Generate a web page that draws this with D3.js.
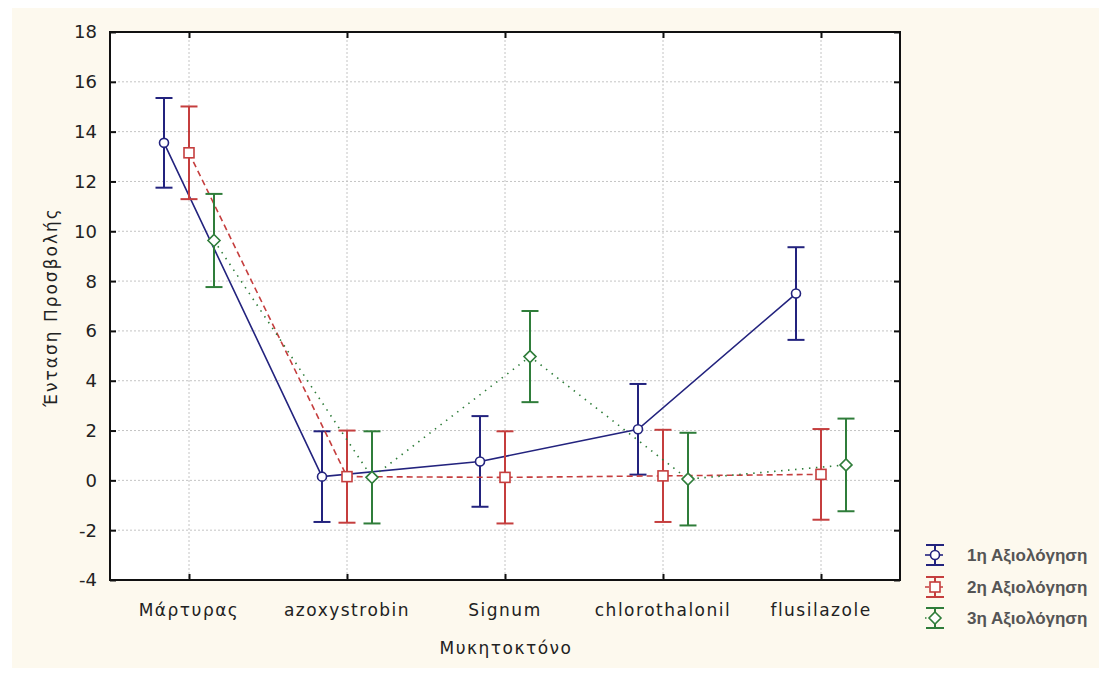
<!DOCTYPE html>
<html>
<head>
<meta charset="utf-8">
<script src="https://cdn.jsdelivr.net/npm/d3@7"></script>
<style>
  html, body { margin: 0; padding: 0; background: #ffffff; }
  svg { display: block; }
</style>
</head>
<body>
<svg id="chart" width="1099" height="673"></svg>
<script>
// ---- data ----
const categories = ["Μάρτυρας", "azoxystrobin", "Signum", "chlorothalonil", "flusilazole"];
const seriesNames = ["1η Αξιολόγηση", "2η Αξιολόγηση", "3η Αξιολόγηση"];
const eval1 = [13.55, 0.15, 0.76, 2.05, 7.5];
const eval2 = [13.15, 0.15, 0.12, 0.18, 0.24];
const eval3 = [9.63, 0.12, 4.97, 0.05, 0.62];
const err1 = [1.8, 1.82, 1.82, 1.82, 1.86];
const err2 = [1.86, 1.85, 1.85, 1.85, 1.82];
const err3 = [1.87, 1.85, 1.83, 1.86, 1.86];
const yTicks = [-4, -2, 0, 2, 4, 6, 8, 10, 12, 14, 16, 18];
const xTitle = "Μυκητοκτόνο";
const yTitle = "Ένταση Προσβολής";

const colors = ["#23237e", "#c53e3e", "#2f7d3a"];
const dashes = [null, "6,4", "1.5,5.5"];
const offsets = [-25, 0, 25];

const svg = d3.select("#chart");

// background
svg.append("rect").attr("x", 0).attr("y", 0).attr("width", 1099).attr("height", 673).attr("fill", "#ffffff");
svg.append("rect").attr("x", 12).attr("y", 8).attr("width", 1087).attr("height", 660).attr("fill", "#fdf9ee");

const L = 110, R = 900, T = 32, B = 580;
const x = d3.scalePoint().domain(categories).range([L, R]).padding(0.5);
const y = d3.scaleLinear().domain([-4, 18]).range([B, T]);

// plot area
svg.append("rect").attr("x", L).attr("y", T).attr("width", R - L).attr("height", B - T).attr("fill", "#ffffff");

// grid
const grid = svg.append("g");
grid.selectAll("line.h").data(yTicks.filter(v => v > -4 && v < 18)).enter().append("line")
  .attr("x1", L).attr("x2", R).attr("y1", d => y(d)).attr("y2", d => y(d))
  .attr("stroke", "#c4c4c4").attr("stroke-width", 1).attr("stroke-dasharray", "2,2");
grid.selectAll("line.v").data(categories).enter().append("line")
  .attr("y1", T).attr("y2", B).attr("x1", d => x(d)).attr("x2", d => x(d))
  .attr("stroke", "#c4c4c4").attr("stroke-width", 1).attr("stroke-dasharray", "2,2");

// axes (inner ticks)
const fontFam = "'DejaVu Sans', sans-serif";
const legFont = "'Liberation Sans', Arial, sans-serif";
const yAxis = svg.append("g").attr("transform", `translate(${L},0)`)
  .call(d3.axisRight(y).tickValues(yTicks).tickSize(6).tickFormat(""));
const yAxisR = svg.append("g").attr("transform", `translate(${R},0)`)
  .call(d3.axisLeft(y).tickValues(yTicks).tickSize(6).tickFormat(""));
const xAxisB = svg.append("g").attr("transform", `translate(0,${B})`)
  .call(d3.axisTop(x).tickSize(6).tickFormat(""));
const xAxisT = svg.append("g").attr("transform", `translate(0,${T})`)
  .call(d3.axisBottom(x).tickSize(6).tickFormat(""));
[yAxis, yAxisR, xAxisB, xAxisT].forEach(g => {
  g.select(".domain").remove();
  g.selectAll(".tick line").attr("stroke", "#111").attr("stroke-width", 2);
});

// y tick labels
svg.append("g").selectAll("text").data(yTicks).enter().append("text")
  .attr("x", 97).attr("y", d => y(d)).attr("dy", "0.36em")
  .attr("text-anchor", "end").attr("font-family", fontFam).attr("font-size", 18)
  .attr("fill", "#222").text(d => d);

// x tick labels
svg.append("g").selectAll("text").data(categories).enter().append("text")
  .attr("x", d => x(d)).attr("y", 616)
  .attr("text-anchor", "middle").attr("font-family", fontFam).attr("font-size", 17)
  .attr("letter-spacing", "1.5px")
  .attr("fill", "#222").text(d => d);

// titles
svg.append("text").attr("x", 506).attr("y", 654).attr("text-anchor", "middle")
  .attr("font-family", fontFam).attr("font-size", 17).attr("letter-spacing", "1.5px")
  .attr("fill", "#222").text(xTitle);
svg.append("text").attr("transform", "translate(57,307) rotate(-90)").attr("text-anchor", "middle")
  .attr("font-family", fontFam).attr("font-size", 17).attr("letter-spacing", "2px")
  .attr("fill", "#222").text(yTitle);

// series
const seriesVals = [eval1, eval2, eval3];
const seriesErr = [err1, err2, err3];

function drawMarker(g, i, cx, cy) {
  if (i === 0) {
    g.append("circle").attr("cx", cx).attr("cy", cy).attr("r", 4.5)
      .attr("fill", "#ffffff").attr("stroke", colors[i]).attr("stroke-width", 1.6);
  } else if (i === 1) {
    g.append("rect").attr("x", cx - 5).attr("y", cy - 5).attr("width", 10).attr("height", 10)
      .attr("fill", "#ffffff").attr("stroke", colors[i]).attr("stroke-width", 1.6);
  } else {
    g.append("path").attr("d", `M${cx},${cy - 6}L${cx + 6},${cy}L${cx},${cy + 6}L${cx - 6},${cy}Z`)
      .attr("fill", "#ffffff").attr("stroke", colors[i]).attr("stroke-width", 1.6);
  }
}

const line = d3.line();
seriesVals.forEach((vals, i) => {
  const g = svg.append("g");
  const pts = vals.map((v, j) => [x(categories[j]) + offsets[i], y(v)]);
  g.append("path").attr("d", line(pts)).attr("fill", "none")
    .attr("stroke", colors[i]).attr("stroke-width", 1.6)
    .attr("stroke-dasharray", dashes[i]);
  vals.forEach((v, j) => {
    const cx = x(categories[j]) + offsets[i];
    const e = seriesErr[i][j];
    g.append("line").attr("x1", cx).attr("x2", cx).attr("y1", y(v + e)).attr("y2", y(v - e))
      .attr("stroke", colors[i]).attr("stroke-width", 2);
    [v + e, v - e].forEach(w => {
      g.append("line").attr("x1", cx - 8.5).attr("x2", cx + 8.5).attr("y1", y(w)).attr("y2", y(w))
        .attr("stroke", colors[i]).attr("stroke-width", 2);
    });
  });
  vals.forEach((v, j) => drawMarker(g, i, x(categories[j]) + offsets[i], y(v)));
});

// plot border
svg.append("rect").attr("x", L).attr("y", T).attr("width", R - L).attr("height", B - T)
  .attr("fill", "none").attr("stroke", "#111").attr("stroke-width", 2);

// legend
const legY = [555, 587, 618];
seriesNames.forEach((name, i) => {
  const g = svg.append("g");
  const cx = 935, cy = legY[i];
  g.append("line").attr("x1", cx - 10).attr("x2", cx + 8).attr("y1", cy).attr("y2", cy)
    .attr("stroke", colors[i]).attr("stroke-width", 1.6).attr("stroke-dasharray", dashes[i] ? (i === 1 ? "4,3" : "1.5,3") : null);
  g.append("line").attr("x1", cx).attr("x2", cx).attr("y1", cy - 10).attr("y2", cy + 10)
    .attr("stroke", colors[i]).attr("stroke-width", 2);
  [cy - 10, cy + 10].forEach(yy => g.append("line").attr("x1", cx - 9).attr("x2", cx + 9)
    .attr("y1", yy).attr("y2", yy).attr("stroke", colors[i]).attr("stroke-width", 2));
  drawMarker(g, i, cx, cy);
  g.append("text").attr("x", 967).attr("y", cy).attr("dy", "0.36em")
    .attr("font-family", legFont).attr("font-size", 17).attr("font-weight", "bold")
    .attr("fill", "#555").text(name);
});
</script>
</body>
</html>
